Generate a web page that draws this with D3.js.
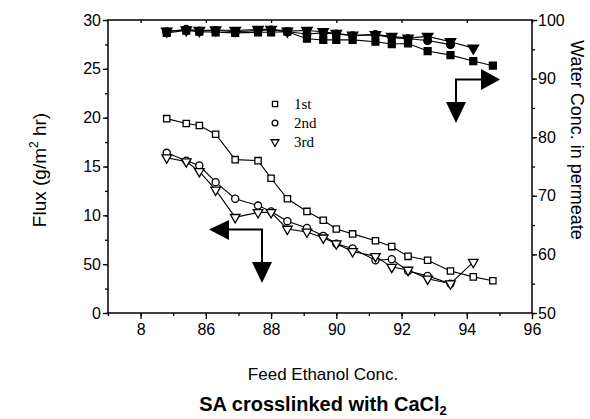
<!DOCTYPE html>
<html lang="en">
<head>
    <meta charset="UTF-8">
    <title>SA crosslinked with CaCl2</title>
    <script src="https://cdn.jsdelivr.net/npm/d3@7"></script>
    <style>
        body { margin: 0; background: #fff; }
        text { font-family: "Liberation Sans", Arial, sans-serif; fill: #000; }
        .serif { font-family: "Liberation Serif", "Times New Roman", serif; }
    </style>
</head>
<body>
<script type="text/javascript">
    // feed ethanol conc. (x) for each run
    var x1 = [84.8, 85.4, 85.8, 86.3, 86.9, 87.6, 88.0, 88.5, 89.1, 89.6, 90.0, 90.5, 91.2, 91.7, 92.2, 92.8, 93.5, 94.2, 94.8];
    var x2 = [84.8, 85.4, 85.8, 86.3, 86.9, 87.6, 88.0, 88.5, 89.1, 89.6, 90.0, 90.5, 91.2, 91.7, 92.2, 92.8, 93.5];
    var x3 = [84.8, 85.4, 85.8, 86.3, 86.9, 87.6, 88.0, 88.5, 89.1, 89.6, 90.0, 90.5, 91.2, 91.7, 92.2, 92.8, 93.5, 94.2];

    // flux (left axis)
    var flux1 = [19.9, 19.4, 19.2, 18.3, 15.7, 15.6, 13.8, 11.7, 10.4, 9.5, 8.6, 8.1, 7.4, 6.8, 5.8, 5.4, 4.3, 3.7, 3.3];
    var flux2 = [16.4, 15.6, 15.1, 13.4, 11.7, 11.0, 10.4, 9.4, 8.7, 7.9, 7.1, 6.6, 5.4, 5.5, 4.3, 3.8, 3.0];
    var flux3 = [15.9, 15.5, 14.5, 12.6, 9.8, 10.3, 10.3, 8.6, 8.3, 7.7, 7.1, 6.3, 5.8, 4.7, 4.4, 3.5, 3.0, 5.2];

    // water conc. in permeate (right axis)
    var water1 = [97.8, 98.2, 98.0, 97.9, 97.8, 97.9, 97.9, 98.0, 96.8, 96.6, 96.6, 96.6, 96.3, 95.9, 96.0, 94.7, 94.0, 93.0, 92.2];
    var water2 = [98.0, 98.4, 98.1, 98.2, 98.0, 98.2, 98.3, 98.0, 97.6, 97.8, 97.6, 97.3, 97.5, 97.0, 96.8, 96.5, 95.8];
    var water3 = [98.1, 98.3, 98.2, 98.3, 98.2, 98.4, 98.4, 98.1, 98.2, 98.0, 97.7, 97.4, 97.5, 97.2, 96.9, 97.2, 96.3, 95.2];

    var runNames = ["1st", "2nd", "3rd"];

    // tick values and labels as printed
    var xTicks = [84, 86, 88, 90, 92, 94, 96];
    var xTickLabels = ["8", "86", "88", "90", "92", "94", "96"];
    var yLeftTicks = [0, 5, 10, 15, 20, 25, 30];
    var yLeftTickLabels = ["0", "50", "10", "15", "20", "25", "30"];
    var yRightTicks = [50, 60, 70, 80, 90, 100];

    var width = 590;
    var height = 419;
    var plotL = 108, plotR = 532, plotT = 20, plotB = 313;

    var svg = d3.select('body').append('svg')
            .attr('width', width)
            .attr('height', height);

    var x = d3.scaleLinear().domain([83, 96]).range([plotL, plotR]);
    var yL = d3.scaleLinear().domain([0, 30]).range([plotB, plotT]);
    var yR = d3.scaleLinear().domain([50, 100]).range([plotB, plotT]);

    // frame
    svg.append('rect')
            .attr('x', plotL).attr('y', plotT)
            .attr('width', plotR - plotL).attr('height', plotB - plotT)
            .attr('fill', 'none').attr('stroke', '#000').attr('stroke-width', 1.5);

    // axes
    var minorX = d3.range(83, 96.01, 1);
    svg.append('g')
            .attr('transform', 'translate(0,' + plotB + ')')
            .call(d3.axisBottom(x).tickValues(minorX).tickSize(3).tickFormat(''));
    svg.append('g')
            .attr('transform', 'translate(0,' + plotB + ')')
            .call(d3.axisBottom(x).tickValues(xTicks).tickSize(6).tickPadding(5)
                    .tickFormat(function (d, i) { return xTickLabels[i]; }));
    svg.append('g')
            .attr('transform', 'translate(0,' + plotT + ')')
            .call(d3.axisBottom(x).tickValues(xTicks).tickSize(3).tickFormat(''));

    svg.append('g')
            .attr('transform', 'translate(' + plotL + ',0)')
            .call(d3.axisLeft(yL).tickValues(d3.range(0, 30.01, 2.5)).tickSize(3).tickFormat(''));
    svg.append('g')
            .attr('transform', 'translate(' + plotL + ',0)')
            .call(d3.axisLeft(yL).tickValues(yLeftTicks).tickSize(5).tickPadding(2)
                    .tickFormat(function (d, i) { return yLeftTickLabels[i]; }));

    svg.append('g')
            .attr('transform', 'translate(' + plotR + ',0)')
            .call(d3.axisRight(yR).tickValues(d3.range(50, 100.01, 5)).tickSize(3).tickFormat(''));
    svg.append('g')
            .attr('transform', 'translate(' + plotR + ',0)')
            .call(d3.axisRight(yR).tickValues(yRightTicks).tickSize(5).tickPadding(1));

    svg.selectAll('.domain').remove();
    svg.selectAll('.tick line').attr('stroke', '#000').attr('stroke-width', 1.3);
    svg.selectAll('.tick text')
            .attr('font-size', 16)
            .attr('font-family', '"Liberation Sans", Arial, sans-serif')
            .attr('fill', '#000');

    // data series
    var symbols = [d3.symbolSquare, d3.symbolCircle, d3.symbolTriangle];
    var xs = [x1, x2, x3];
    var fluxes = [flux1, flux2, flux3];
    var waters = [water1, water2, water3];

    var line = d3.line();

    function drawSeries(xv, yv, scale, sym, filled, size) {
        var pts = xv.map(function (v, i) { return [x(v), scale(yv[i])]; });
        svg.append('path')
                .attr('d', line(pts))
                .attr('fill', 'none')
                .attr('stroke', '#000')
                .attr('stroke-width', 1.1);
        svg.append('g').selectAll('path')
                .data(pts)
                .enter()
                .append('path')
                .attr('transform', function (d) {
                    var rot = sym === d3.symbolTriangle ? ' rotate(180)' : '';
                    return 'translate(' + d[0] + ',' + d[1] + ')' + rot;
                })
                .attr('d', d3.symbol().type(sym).size(size))
                .attr('fill', filled ? '#000' : '#fff')
                .attr('stroke', '#000')
                .attr('stroke-width', 1.3);
    }

    for (var k = 0; k < 3; k++) {
        drawSeries(xs[k], fluxes[k], yL, symbols[k], false, 40);
    }
    for (var k = 0; k < 3; k++) {
        drawSeries(xs[k], waters[k], yR, symbols[k], true, 48);
    }

    // legend
    var legend = svg.append('g').attr('transform', 'translate(275,104)');
    runNames.forEach(function (name, i) {
        legend.append('path')
                .attr('transform', 'translate(0,' + (i * 19) + ')' + (i === 2 ? ' rotate(180)' : ''))
                .attr('d', d3.symbol().type(symbols[i]).size(26))
                .attr('fill', '#fff')
                .attr('stroke', '#000')
                .attr('stroke-width', 1.3);
        legend.append('text')
                .attr('class', 'serif')
                .attr('x', 19)
                .attr('y', i * 19 + 5)
                .attr('font-size', 15)
                .text(name);
    });

    // arrows pointing to the axes
    function arrow(pts) {
        svg.append('path')
                .attr('d', d3.line()(pts))
                .attr('fill', 'none')
                .attr('stroke', '#000')
                .attr('stroke-width', 2);
    }
    function head(pts) {
        svg.append('path')
                .attr('d', d3.line()(pts) + 'Z')
                .attr('fill', '#000');
    }
    // upper: right and down
    arrow([[456, 103], [456, 79.5], [482, 79.5]]);
    head([[481, 69], [500, 79.5], [481, 90]]);
    head([[446, 102], [466, 102], [456, 123]]);
    // lower: left and down
    arrow([[228, 229.5], [262, 229.5], [262, 263]]);
    head([[229, 220], [209, 229.5], [229, 240]]);
    head([[252, 262], [272, 262], [262, 283]]);

    // axis titles
    var flux = svg.append('text')
            .attr('transform', 'translate(46,170) rotate(-90)')
            .attr('text-anchor', 'middle')
            .attr('font-size', 19);
    flux.append('tspan').text('Flux (g/m');
    flux.append('tspan').attr('font-size', 12).attr('dy', -8).text('2');
    flux.append('tspan').attr('dy', 8).text(' hr)');

    svg.append('text')
            .attr('transform', 'translate(571,140) rotate(90)')
            .attr('text-anchor', 'middle')
            .attr('font-size', 18)
            .text('Water Conc. in permeate');

    svg.append('text')
            .attr('x', 323)
            .attr('y', 380)
            .attr('text-anchor', 'middle')
            .attr('font-size', 17)
            .text('Feed Ethanol Conc.');

    var title = svg.append('text')
            .attr('x', 323)
            .attr('y', 411)
            .attr('text-anchor', 'middle')
            .attr('font-size', 20)
            .attr('font-weight', 'bold');
    title.append('tspan').text('SA crosslinked with CaCl');
    title.append('tspan').attr('font-size', 13).attr('dy', 4).text('2');
</script>
</body>
</html>
